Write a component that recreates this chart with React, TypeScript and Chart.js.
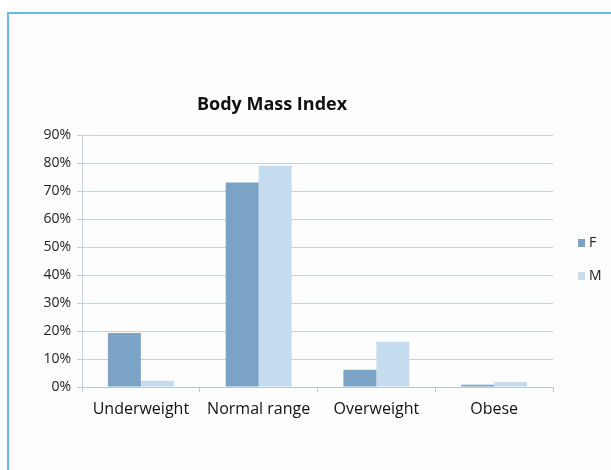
import React, { useEffect, useRef } from "react";
import { Chart, registerables } from "chart.js";

Chart.register(...registerables);

const categories = ["Underweight", "Normal range", "Overweight", "Obese"];
const seriesF = [19.3, 73, 6.2, 0.8];
const seriesM = [2.2, 79, 16.2, 1.8];
const seriesNames = ["F", "M"];
const chartTitle = "Body Mass Index";
const yTicksMax = 90;

const colorF = "#7ba3c5";
const colorM = "#c5dbee";
const FONT = "'Open Sans', 'Noto Sans', sans-serif";

const decorPlugin = {
  id: "decor",
  afterDraw(chart: any) {
    const ctx = chart.ctx;
    const ds = chart.data.datasets;
    const x = chart.chartArea.right + 25;
    ctx.save();
    // title
    ctx.fillStyle = "#111";
    ctx.font = `bold 18px ${FONT}`;
    ctx.textAlign = "center";
    ctx.textBaseline = "middle";
    ctx.fillText(chartTitle, 272, 105);
    // legend
    ctx.textAlign = "left";
    ds.forEach((d: any, i: number) => {
      const y = 243 + i * 33;
      ctx.fillStyle = d.backgroundColor;
      ctx.fillRect(x, y - 4, 7, 8);
      ctx.fillStyle = "#222";
      ctx.font = `14px ${FONT}`;
      ctx.textBaseline = "middle";
      ctx.fillText(d.label, x + 11, y);
    });
    ctx.restore();
  },
};

export default function App() {
  const ref = useRef<HTMLCanvasElement>(null);
  useEffect(() => {
    const chart = new Chart(ref.current!, {
      type: "bar",
      data: {
        labels: categories,
        datasets: [
          { label: seriesNames[0], data: seriesF, backgroundColor: colorF },
          { label: seriesNames[1], data: seriesM, backgroundColor: colorM },
        ],
      },
      options: {
        animation: false,
        responsive: false,
        devicePixelRatio: 1,
        layout: { padding: { left: 22, right: 58, top: 135, bottom: 43 } },
        datasets: { bar: { barPercentage: 1, categoryPercentage: 0.56 } },
        plugins: {
          legend: { display: false },
          tooltip: { enabled: false },
          title: { display: false },
        },
        scales: {
          x: {
            afterFit: (s: any) => { s.height = 40; },
            grid: {
              offset: true,
              drawOnChartArea: false,
              drawTicks: true,
              tickLength: 5,
              color: "#b3c9dc",
            },
            border: { color: "#b3c9dc" },
            ticks: { color: "#111", font: { family: FONT, size: 16 }, padding: 8 },
          },
          y: {
            min: 0,
            max: yTicksMax,
            afterFit: (s: any) => { s.width = 60; },
            grid: { color: "#bfd2e2", tickLength: 5 },
            border: { color: "#bfd2e2" },
            ticks: {
              stepSize: 10,
              color: "#222",
              font: { family: FONT, size: 14 },
              padding: 6,
              callback: (v: any) => v + "%",
            },
          },
        },
      },
      plugins: [decorPlugin],
    });
    return () => chart.destroy();
  }, []);
  return (
    <div style={{ position: "fixed", left: 0, top: 0, width: 611, height: 470, background: "#fff", overflow: "hidden" }}>
      <div style={{ position: "absolute", left: 7, top: 12, width: 640, height: 500, border: "2px solid #62bbe6", background: "#fdfdfd" }} />
      <canvas ref={ref} width={611} height={470} style={{ position: "absolute", left: 0, top: 0 }} />
    </div>
  );
}
